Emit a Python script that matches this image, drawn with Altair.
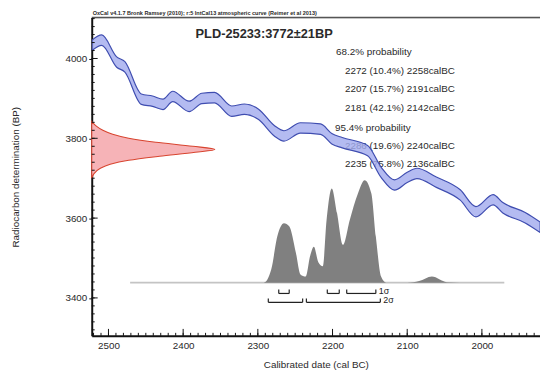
import altair as alt
import pandas as pd

# ---------------- data ----------------
CURVE_YEAR = [2522, 2509, 2489, 2478, 2456, 2441, 2427, 2414, 2392, 2375, 2358, 2335,
              2318, 2299, 2278, 2265, 2243, 2216, 2201, 2187, 2153, 2135, 2117, 2100,
              2087, 2061, 2029, 2008, 1985, 1972, 1942, 1922]
CURVE_BP = [4033, 4046, 3991, 3979, 3898, 3893, 3885, 3905, 3880, 3900, 3902, 3868,
            3873, 3860, 3819, 3806, 3826, 3823, 3799, 3789, 3769, 3715, 3683, 3702,
            3712, 3690, 3658, 3616, 3646, 3626, 3601, 3577]
CURVE_ERR = 13

RED_BP = [3842, 3830, 3820, 3810, 3800, 3790, 3780, 3772, 3765, 3755, 3745, 3735, 3725, 3712, 3700]
RED_DENS = [0.0, 0.04, 0.09, 0.17, 0.30, 0.52, 0.82, 1.0, 0.84, 0.55, 0.30, 0.15, 0.07, 0.02, 0.0]

GRAY_YEAR = [2300, 2292, 2282, 2274, 2265, 2258, 2249, 2243, 2236, 2230, 2225, 2219, 2213,
             2208, 2201, 2194, 2186, 2177, 2166, 2157, 2148, 2142, 2135, 2128, 2100, 2084,
             2067, 2047, 2030]
GRAY_DENS = [0, 0, 0.13, 0.45, 0.58, 0.55, 0.29, 0.08, 0.06, 0.26, 0.35, 0.20, 0.16,
             0.61, 0.92, 0.68, 0.37, 0.61, 0.87, 1.0, 0.87, 0.45, 0.06, 0, 0, 0.015,
             0.06, 0.005, 0]
BASE_FROM, BASE_TO = 2471, 1970

SIG1_FROM = [2272, 2207, 2181]
SIG1_TO = [2258, 2191, 2142]
SIG2_FROM = [2286, 2235]
SIG2_TO = [2240, 2136]

X_MAJOR = [2500, 2400, 2300, 2200, 2100, 2000]
X_MINOR = list(range(1930, 2530, 10))
Y_MAJOR = [3400, 3600, 3800, 4000]
Y_MINOR = list(range(3320, 4101, 20))

TITLE = "PLD-25233:3772\u00b121BP"
HEADER = "OxCal v4.1.7 Bronk Ramsey (2010); r:5 IntCal13 atmospheric curve (Reimer et al 2013)"
PROB_HEAD = ["68.2% probability", "95.4% probability"]
LINES_68 = ["2272 (10.4%) 2258calBC", "2207 (15.7%) 2191calBC", "2181 (42.1%) 2142calBC"]
LINES_95 = ["2286 (19.6%) 2240calBC", "2235 (75.8%) 2136calBC"]
X_TITLE = "Calibrated date (cal BC)"
Y_TITLE = "Radiocarbon determination (BP)"

# ---------------- layout ----------------
W, H = 455, 323
FONT = "Liberation Sans"
TXT = "#2a2a2a"

xs = alt.Scale(domain=[1922.2, 2522.4], reverse=True, nice=False, zero=False)
ys = alt.Scale(domain=[3305, 4102.5], nice=False, zero=False)
gs = alt.Scale(domain=[-0.519, 2.587], nice=False, zero=False)
rs = alt.Scale(domain=[0, 3.64], nice=False, zero=False)

curve = pd.DataFrame({"year": CURVE_YEAR, "bp": CURVE_BP})
curve["lo"] = curve["bp"] - CURVE_ERR
curve["hi"] = curve["bp"] + CURVE_ERR

band = alt.Chart(curve).mark_area(
    fill="#a3acee", fillOpacity=0.82, stroke="#3f4db0", strokeWidth=1.2,
    interpolate="monotone", clip=True
).encode(
    x=alt.X("year:Q", scale=xs, axis=alt.Axis(
        title=X_TITLE, values=X_MAJOR, format="d", ticks=False, grid=False,
        domainColor="#111", domainWidth=2, labelFontSize=10, labelColor=TXT,
        labelPadding=5, titleFontSize=10, titleFontWeight="normal", titleColor=TXT,
        titleY=29, titleBaseline="middle")),
    y=alt.Y("lo:Q", scale=ys, axis=alt.Axis(
        title=Y_TITLE, values=Y_MAJOR, format="d", tickSize=3, tickColor="#111",
        grid=False, domainColor="#111", domainWidth=2, labelFontSize=10,
        labelColor=TXT, labelPadding=2, titleFontSize=10, titleFontWeight="normal",
        titleColor=TXT, titleX=-77, titleY=H / 2, titleBaseline="middle")),
    y2="hi:Q",
)

red = alt.Chart(pd.DataFrame({"bp": RED_BP, "d": RED_DENS})).mark_area(
    orient="horizontal", fill="#f6b3b7", stroke="#d8442f", strokeWidth=1.1,
    interpolate="monotone"
).encode(
    y=alt.Y("bp:Q", scale=ys, axis=None),
    x=alt.X("d:Q", scale=rs, axis=None),
    x2=alt.value(0),
)

gdf = pd.DataFrame({"year": GRAY_YEAR, "d": GRAY_DENS})
gdf["base"] = 0
baseline = alt.Chart(pd.DataFrame({"a": [BASE_FROM], "b": [BASE_TO], "base": [0]})).mark_rule(
    color="#c4c4c4", strokeWidth=1.6
).encode(
    x=alt.X("a:Q", scale=xs, axis=None), x2="b:Q",
    y=alt.Y("base:Q", scale=gs, axis=None),
)
gray = alt.Chart(gdf).mark_area(
    orient="vertical", fill="#808080", interpolate="monotone"
).encode(
    x=alt.X("year:Q", scale=xs, axis=None),
    y=alt.Y("d:Q", scale=gs, axis=None),
    y2="base:Q",
)


def brackets(starts, ends, ybar, label):
    d = pd.DataFrame({"s": starts, "e": ends})
    edges = pd.DataFrame({"v": starts + ends})
    hbar = alt.Chart(d).mark_rule(color="#222", strokeWidth=1.2).encode(
        x=alt.X("s:Q", scale=xs, axis=None), x2="e:Q", y=alt.value(ybar))
    vbar = alt.Chart(edges).mark_rule(color="#222", strokeWidth=1.2).encode(
        x=alt.X("v:Q", scale=xs, axis=None), y=alt.value(ybar - 4), y2=alt.value(ybar))
    lab = alt.Chart(pd.DataFrame({"v": [min(ends)], "t": [label]})).mark_text(
        align="left", baseline="middle", dx=3, fontSize=9, color="#222", font=FONT
    ).encode(x=alt.X("v:Q", scale=xs, axis=None), y=alt.value(ybar - 2), text="t:N")
    return [hbar, vbar, lab]


def ticks(vals, axis, length):
    d = pd.DataFrame({"v": vals})
    if axis == "x":
        return alt.Chart(d).mark_rule(color="#111", strokeWidth=1).encode(
            x=alt.X("v:Q", scale=xs, axis=None), y=alt.value(H), y2=alt.value(H - length))
    return alt.Chart(d).mark_rule(color="#111", strokeWidth=1).encode(
        y=alt.Y("v:Q", scale=ys, axis=None), x=alt.value(0), x2=alt.value(length))


def text_at(s, x, y, size=10, weight="normal", align="left"):
    return alt.Chart(pd.DataFrame({"t": [s]})).mark_text(
        align=align, baseline="middle", fontSize=size, fontWeight=weight,
        color=TXT, font=FONT
    ).encode(x=alt.value(x), y=alt.value(y), text="t:N")


texts = [
    text_at(HEADER, 1, -5, size=5.6, weight="bold"),
    text_at(TITLE, 175, 17, size=13, weight="bold", align="center"),
    text_at(PROB_HEAD[0], 248, 35),
    text_at(LINES_68[0], 257, 54),
    text_at(LINES_68[1], 257, 73),
    text_at(LINES_68[2], 257, 92),
    text_at(PROB_HEAD[1], 247, 112),
    text_at(LINES_95[0], 257, 130),
    text_at(LINES_95[1], 257, 149),
]

top_line = alt.Chart(pd.DataFrame({"t": [0]})).mark_rule(color="#555", strokeWidth=1.5).encode(
    x=alt.value(0), x2=alt.value(W), y=alt.value(0))

layers = (
    [red, baseline, gray]
    + brackets(SIG1_FROM, SIG1_TO, 280, "1\u03c3")
    + brackets(SIG2_FROM, SIG2_TO, 289, "2\u03c3")
    + texts
    + [band, top_line,
       ticks(X_MINOR, "x", 3), ticks(X_MAJOR, "x", 7),
       ticks(Y_MINOR, "y", 3), ticks(Y_MAJOR, "y", 6)]
)

chart = alt.layer(*layers).resolve_scale(
    x="independent", y="independent"
).properties(
    width=W, height=H,
    padding={"left": 85, "top": 7, "right": 0, "bottom": 35},
    autosize=alt.AutoSizeParams(type="none"),
).configure_view(stroke=None).configure(font=FONT)

chart.save("out.html", embed_options={"renderer": "svg", "actions": False})
